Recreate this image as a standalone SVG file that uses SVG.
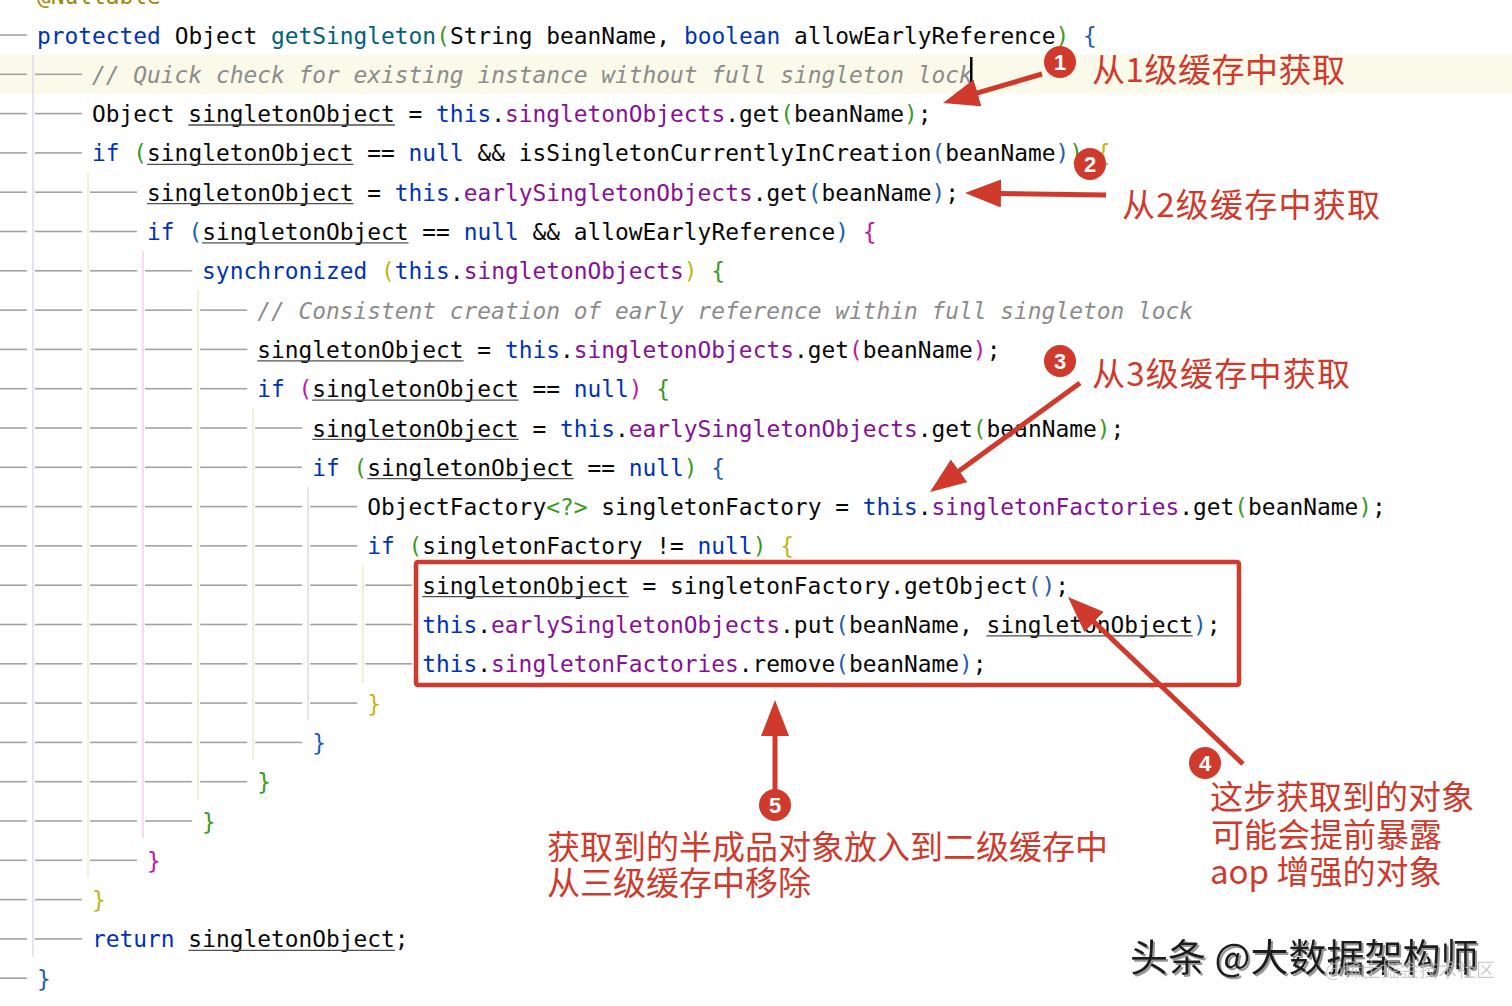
<svg xmlns="http://www.w3.org/2000/svg" width="1512" height="1006" viewBox="0 0 1512 1006">
<style>
.c{font-family:"DejaVu Sans Mono","Liberation Mono",monospace;font-size:22.86px;fill:#080808}
.k{fill:#0033b3}.f{fill:#871094}.m{fill:#00627a}.cm{fill:#8c8c8c;font-style:italic}.an{fill:#9e880d}
.bg{fill:#3a9a1c}.bb{fill:#1f5eae}.by{fill:#c2b418}.bm{fill:#c0169e}
.tab{fill:url(#tabs)}
.ul{stroke:#505050;stroke-width:1.3}
.g{stroke-width:1.3}
.red{fill:#d03a2c}
.lbl{font-family:"Noto Sans CJK SC","Noto Sans",sans-serif;font-size:33px;fill:#d03a2c}
.num{font-family:"Liberation Sans","Noto Sans",sans-serif;font-size:22px;font-weight:bold;fill:#fff;text-anchor:middle}
.arr{stroke:#d03a2c;stroke-width:5;fill:none;marker-end:url(#ah)}
</style>
<defs>
<pattern id="tabs" patternUnits="userSpaceOnUse" x="35" y="0" width="55.04" height="4">
<rect x="0" y="0" width="47" height="4" fill="#a3a3a3"/>
</pattern>
<marker id="ah" viewBox="0 0 36 28" markerWidth="36" markerHeight="28" refX="1" refY="14" orient="auto" markerUnits="userSpaceOnUse">
<path d="M0,0 L36,14 L0,28 z" fill="#d03a2c"/>
</marker>
<filter id="sh" x="-5%" y="-20%" width="110%" height="140%">
<feDropShadow dx="2" dy="2" stdDeviation="0.6" flood-color="#8a8a8a" flood-opacity="0.9"/>
</filter>
</defs>
<rect x="0" y="0" width="1512" height="1006" fill="#ffffff"/>
<rect x="0" y="54.6" width="1512" height="39.3" fill="#fbf9e9"/>

<g id="indent-guides" class="g">
<line x1="33" y1="55" x2="33" y2="957" stroke="#d6d6ea"/>
<line x1="88" y1="173" x2="88" y2="877" stroke="#ebebc4"/>
<line x1="143" y1="251" x2="143" y2="838" stroke="#efc8ee"/>
<line x1="198" y1="290" x2="198" y2="800" stroke="#e4eac6"/>
<line x1="253" y1="408" x2="253" y2="760" stroke="#ebebc6"/>
<line x1="308" y1="487" x2="308" y2="720" stroke="#d8d8ec"/>
<line x1="363" y1="566" x2="363" y2="683" stroke="#ebebc4"/>
</g>

<g id="tab-markers">
<rect class="tab" x="0" y="34.2" width="28" height="1.6"/>
<rect class="tab" x="0" y="73.5" width="83.04" height="1.6"/>
<rect class="tab" x="0" y="112.8" width="83.04" height="1.6"/>
<rect class="tab" x="0" y="152.1" width="83.04" height="1.6"/>
<rect class="tab" x="0" y="191.4" width="138.08" height="1.6"/>
<rect class="tab" x="0" y="230.7" width="138.08" height="1.6"/>
<rect class="tab" x="0" y="270.0" width="193.12" height="1.6"/>
<rect class="tab" x="0" y="309.3" width="248.16" height="1.6"/>
<rect class="tab" x="0" y="348.6" width="248.16" height="1.6"/>
<rect class="tab" x="0" y="387.9" width="248.16" height="1.6"/>
<rect class="tab" x="0" y="427.2" width="303.2" height="1.6"/>
<rect class="tab" x="0" y="466.5" width="303.2" height="1.6"/>
<rect class="tab" x="0" y="505.8" width="358.24" height="1.6"/>
<rect class="tab" x="0" y="545.1" width="358.24" height="1.6"/>
<rect class="tab" x="0" y="584.4" width="413.28" height="1.6"/>
<rect class="tab" x="0" y="623.7" width="413.28" height="1.6"/>
<rect class="tab" x="0" y="663.0" width="413.28" height="1.6"/>
<rect class="tab" x="0" y="702.3" width="358.24" height="1.6"/>
<rect class="tab" x="0" y="741.6" width="303.2" height="1.6"/>
<rect class="tab" x="0" y="780.9" width="248.16" height="1.6"/>
<rect class="tab" x="0" y="820.2" width="193.12" height="1.6"/>
<rect class="tab" x="0" y="859.5" width="138.08" height="1.6"/>
<rect class="tab" x="0" y="898.8" width="83.04" height="1.6"/>
<rect class="tab" x="0" y="938.1" width="83.04" height="1.6"/>
<rect class="tab" x="0" y="977.4" width="28" height="1.6"/>
</g>

<g id="code" class="c" xml:space="preserve">
<text class="c an" x="37" y="4.2">@Nullable</text>
<text class="c" x="37" y="43.5"><tspan class="k">protected</tspan> Object <tspan class="m">getSingleton</tspan><tspan class="bg">(</tspan>String beanName, <tspan class="k">boolean</tspan> allowEarlyReference<tspan class="bg">)</tspan> <tspan class="bb">{</tspan></text>
<text class="c" x="92.04" y="82.8"><tspan class="cm">// Quick check for existing instance without full singleton lock</tspan></text>
<text class="c" x="92.04" y="122.1">Object singletonObject = <tspan class="k">this</tspan>.<tspan class="f">singletonObjects</tspan>.get<tspan class="bg">(</tspan>beanName<tspan class="bg">)</tspan>;</text>
<text class="c" x="92.04" y="161.4"><tspan class="k">if</tspan> <tspan class="bg">(</tspan>singletonObject == <tspan class="k">null</tspan> &amp;&amp; isSingletonCurrentlyInCreation<tspan class="bb">(</tspan>beanName<tspan class="bb">)</tspan><tspan class="bg">)</tspan> <tspan class="by">{</tspan></text>
<text class="c" x="147.08" y="200.7">singletonObject = <tspan class="k">this</tspan>.<tspan class="f">earlySingletonObjects</tspan>.get<tspan class="bb">(</tspan>beanName<tspan class="bb">)</tspan>;</text>
<text class="c" x="147.08" y="240.0"><tspan class="k">if</tspan> <tspan class="bb">(</tspan>singletonObject == <tspan class="k">null</tspan> &amp;&amp; allowEarlyReference<tspan class="bb">)</tspan> <tspan class="bm">{</tspan></text>
<text class="c" x="202.12" y="279.3"><tspan class="k">synchronized</tspan> <tspan class="by">(</tspan><tspan class="k">this</tspan>.<tspan class="f">singletonObjects</tspan><tspan class="by">)</tspan> <tspan class="bg">{</tspan></text>
<text class="c" x="257.16" y="318.6"><tspan class="cm">// Consistent creation of early reference within full singleton lock</tspan></text>
<text class="c" x="257.16" y="357.9">singletonObject = <tspan class="k">this</tspan>.<tspan class="f">singletonObjects</tspan>.get<tspan class="bm">(</tspan>beanName<tspan class="bm">)</tspan>;</text>
<text class="c" x="257.16" y="397.2"><tspan class="k">if</tspan> <tspan class="bm">(</tspan>singletonObject == <tspan class="k">null</tspan><tspan class="bm">)</tspan> <tspan class="bg">{</tspan></text>
<text class="c" x="312.2" y="436.5">singletonObject = <tspan class="k">this</tspan>.<tspan class="f">earlySingletonObjects</tspan>.get<tspan class="bg">(</tspan>beanName<tspan class="bg">)</tspan>;</text>
<text class="c" x="312.2" y="475.8"><tspan class="k">if</tspan> <tspan class="bg">(</tspan>singletonObject == <tspan class="k">null</tspan><tspan class="bg">)</tspan> <tspan class="bb">{</tspan></text>
<text class="c" x="367.24" y="515.1">ObjectFactory<tspan class="bg">&lt;?&gt;</tspan> singletonFactory = <tspan class="k">this</tspan>.<tspan class="f">singletonFactories</tspan>.get<tspan class="bg">(</tspan>beanName<tspan class="bg">)</tspan>;</text>
<text class="c" x="367.24" y="554.4"><tspan class="k">if</tspan> <tspan class="bg">(</tspan>singletonFactory != <tspan class="k">null</tspan><tspan class="bg">)</tspan> <tspan class="by">{</tspan></text>
<text class="c" x="422.28" y="593.7">singletonObject = singletonFactory.getObject<tspan class="bb">()</tspan>;</text>
<text class="c" x="422.28" y="633.0"><tspan class="k">this</tspan>.<tspan class="f">earlySingletonObjects</tspan>.put<tspan class="bb">(</tspan>beanName, singletonObject<tspan class="bb">)</tspan>;</text>
<text class="c" x="422.28" y="672.3"><tspan class="k">this</tspan>.<tspan class="f">singletonFactories</tspan>.remove<tspan class="bb">(</tspan>beanName<tspan class="bb">)</tspan>;</text>
<text class="c by" x="367.24" y="711.6">}</text>
<text class="c bb" x="312.2" y="750.9">}</text>
<text class="c bg" x="257.16" y="790.2">}</text>
<text class="c bg" x="202.12" y="829.5">}</text>
<text class="c bm" x="147.08" y="868.8">}</text>
<text class="c by" x="92.04" y="908.1">}</text>
<text class="c" x="92.04" y="947.4"><tspan class="k">return</tspan> singletonObject;</text>
<text class="c bb" x="37" y="986.7">}</text>
</g>

<g id="underlines" class="ul">
<line x1="188.4" y1="125" x2="394.8" y2="125"/>
<line x1="147.1" y1="164.3" x2="353.5" y2="164.3"/>
<line x1="147.1" y1="203.6" x2="353.5" y2="203.6"/>
<line x1="202.1" y1="242.9" x2="408.5" y2="242.9"/>
<line x1="257.2" y1="360.8" x2="463.6" y2="360.8"/>
<line x1="312.2" y1="400.1" x2="518.6" y2="400.1"/>
<line x1="312.2" y1="439.4" x2="518.6" y2="439.4"/>
<line x1="367.2" y1="478.7" x2="573.6" y2="478.7"/>
<line x1="422.3" y1="596.6" x2="628.7" y2="596.6"/>
<line x1="986.4" y1="635.9" x2="1192.8" y2="635.9"/>
<line x1="188.4" y1="950.3" x2="394.8" y2="950.3"/>
</g>

<rect id="cursor" x="970" y="57" width="2.5" height="34" fill="#000"/>

<g id="highlight-box">
<rect x="416" y="562" width="823" height="123" rx="2" fill="none" stroke="#d03a2c" stroke-width="4.5"/>
</g>

<g id="connectors">
<line class="arr" x1="1042" y1="74" x2="976.6" y2="93.2"/>
<line class="arr" x1="1106" y1="195" x2="1000" y2="193.5"/>
<line class="arr" x1="1080" y1="383" x2="958.3" y2="471.4"/>
<line class="arr" x1="1243" y1="764" x2="1093.3" y2="621.2"/>
<line class="arr" x1="775" y1="790" x2="775" y2="735"/>
</g>

<g id="note-1">
<circle class="red" cx="1060" cy="62" r="16"/>
<text class="num" x="1060" y="70">1</text>
<text class="lbl" x="1092" y="82" textLength="253" lengthAdjust="spacing">从1级缓存中获取</text>
</g>
<g id="note-2">
<circle class="red" cx="1090" cy="164" r="16"/>
<text class="num" x="1090" y="172">2</text>
<text class="lbl" x="1122" y="217" textLength="258" lengthAdjust="spacing">从2级缓存中获取</text>
</g>
<g id="note-3">
<circle class="red" cx="1060" cy="361" r="16"/>
<text class="num" x="1060" y="369">3</text>
<text class="lbl" x="1092" y="386" textLength="258" lengthAdjust="spacing">从3级缓存中获取</text>
</g>
<g id="note-4">
<circle class="red" cx="1205" cy="763" r="16"/>
<text class="num" x="1205" y="771">4</text>
<text class="lbl" x="1210" y="809">这步获取到的对象</text>
<text class="lbl" x="1211" y="847">可能会提前暴露</text>
<text class="lbl" x="1210" y="884">aop 增强的对象</text>
</g>
<g id="note-5">
<circle class="red" cx="775" cy="805" r="16"/>
<text class="num" x="775" y="813">5</text>
<text class="lbl" x="547" y="859">获取到的半成品对象放入到二级缓存中</text>
<text class="lbl" x="547" y="895">从三级缓存中移除</text>
</g>

<g id="watermark">
<text x="1130" y="971" font-family="Noto Sans CJK SC, sans-serif" font-size="38" fill="#1c1c1c" filter="url(#sh)">头条 @大数据架构师</text>
<text x="1325" y="977" font-family="Noto Sans CJK SC, sans-serif" font-size="19" fill="#bdbdbd" opacity="0.75">@稀土掘金技术社区</text>
</g>
</svg>
